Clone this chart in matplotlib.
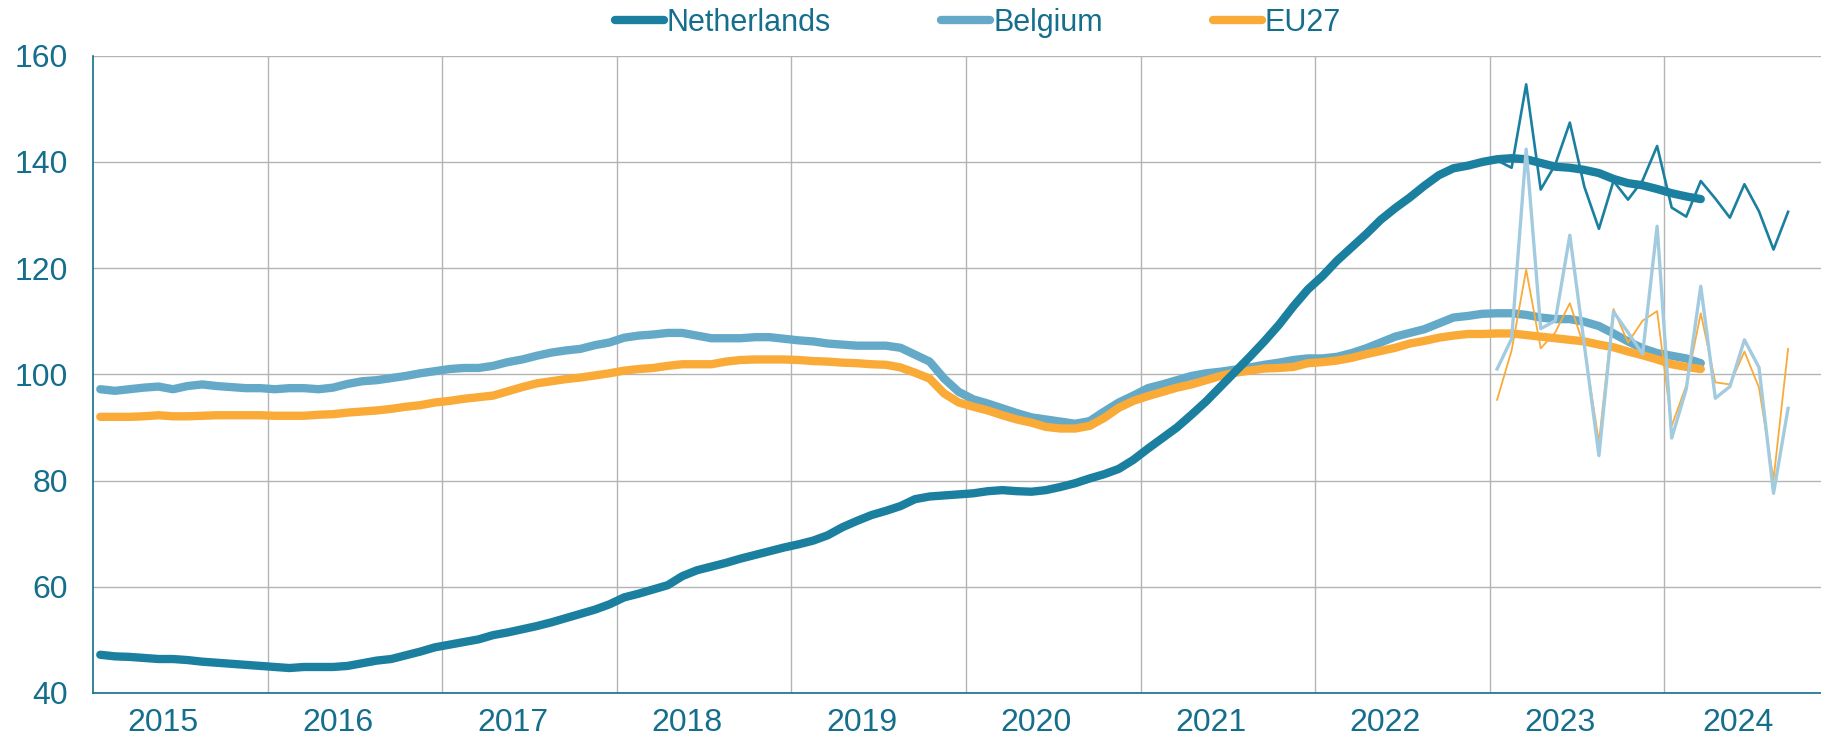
import numpy as np
import matplotlib.pyplot as plt

# monthly index, smoothed series Jan 2015 - Mar 2024
netherlands = [
    47.2, 46.9, 46.8, 46.6, 46.4, 46.4, 46.2, 45.9, 45.7, 45.5, 45.3, 45.1,
    44.9, 44.7, 44.9, 44.9, 44.9, 45.1, 45.6, 46.1, 46.4, 47.1, 47.8, 48.6,
    49.1, 49.6, 50.1, 50.9, 51.4, 52.0, 52.6, 53.3, 54.1, 54.9, 55.7, 56.7,
    58.0, 58.7, 59.5, 60.3, 62.0, 63.1, 63.8, 64.5, 65.3, 66.0, 66.7, 67.4,
    68.0, 68.7, 69.7, 71.2, 72.4, 73.5, 74.3, 75.2, 76.5, 77.0, 77.2, 77.4,
    77.6, 78.0, 78.2, 78.0, 77.9, 78.2, 78.8, 79.5, 80.4, 81.2, 82.2, 83.9,
    86.0, 88.0, 90.0, 92.4, 94.9, 97.7, 100.5, 103.3, 106.2, 109.3, 112.8, 116.0,
    118.5, 121.4, 123.9, 126.4, 129.1, 131.3, 133.3, 135.5, 137.5, 138.8, 139.3, 140.0,
    140.5, 140.7, 140.5, 139.8, 139.1, 138.9, 138.5, 137.9, 136.8, 136.0, 135.6, 134.9,
    134.1, 133.5, 133.0,
]
belgium = [
    97.2, 96.9, 97.2, 97.5, 97.7, 97.2, 97.8, 98.1, 97.8, 97.6, 97.4, 97.4,
    97.2, 97.4, 97.4, 97.2, 97.5, 98.2, 98.7, 98.9, 99.3, 99.7, 100.2, 100.6,
    101.0, 101.2, 101.2, 101.6, 102.3, 102.8, 103.5, 104.1, 104.5, 104.8, 105.5, 106.0,
    106.9, 107.3, 107.5, 107.8, 107.8, 107.3, 106.8, 106.8, 106.8, 107.0, 107.0, 106.7,
    106.4, 106.2, 105.8, 105.6, 105.4, 105.4, 105.4, 105.0, 103.7, 102.4, 99.2, 96.7,
    95.3, 94.5, 93.6, 92.7, 91.9, 91.5, 91.1, 90.7, 91.2, 93.0, 94.7, 96.0,
    97.4, 98.1, 98.9, 99.7, 100.2, 100.5, 100.9, 101.3, 101.8, 102.2, 102.7, 103.0,
    103.0, 103.3, 104.0, 104.9, 106.0, 107.1, 107.8, 108.5, 109.6, 110.7, 111.0, 111.4,
    111.5, 111.5, 111.2, 110.7, 110.4, 110.4, 109.9, 109.1, 107.7, 106.2, 104.9, 104.0,
    103.5, 103.0, 102.1,
]
eu27 = [
    92.0, 92.0, 92.0, 92.1, 92.3, 92.1, 92.1, 92.2, 92.3, 92.3, 92.3, 92.3,
    92.2, 92.2, 92.2, 92.4, 92.5, 92.8, 93.0, 93.2, 93.5, 93.9, 94.2, 94.7,
    95.0, 95.4, 95.7, 96.0, 96.8, 97.6, 98.3, 98.7, 99.1, 99.4, 99.8, 100.2,
    100.7, 101.0, 101.2, 101.6, 101.9, 101.9, 101.9, 102.4, 102.7, 102.8, 102.8, 102.8,
    102.7, 102.5, 102.4, 102.2, 102.1, 101.9, 101.8, 101.3, 100.3, 99.2, 96.4, 94.7,
    93.9, 93.2, 92.3, 91.5, 90.9, 90.1, 89.8, 89.8, 90.3, 91.8, 93.7, 95.0,
    95.9, 96.7, 97.5, 98.1, 98.9, 99.7, 100.3, 100.7, 101.1, 101.2, 101.4, 102.1,
    102.3, 102.6, 103.1, 103.8, 104.4, 105.0, 105.8, 106.3, 106.9, 107.3, 107.6, 107.6,
    107.7, 107.7, 107.4, 107.1, 106.8, 106.5, 106.2, 105.6, 105.1, 104.3, 103.6, 102.8,
    101.9, 101.4, 101.0,
]

# raw monthly values Jan 2023 - Sep 2024
netherlands_raw = [140.3, 138.9, 154.6, 134.8, 139.5, 147.4, 135.3, 127.4, 136.4, 132.9, 136.5,
                   143.0, 131.4, 129.7, 136.4, 133.1, 129.5, 135.8, 130.7, 123.5, 130.6]
belgium_raw = [101.0, 106.7, 142.4, 108.6, 110.1, 126.2, 105.5, 84.7, 111.8, 107.9, 103.8,
               127.9, 88.0, 97.2, 116.6, 95.5, 97.7, 106.5, 101.3, 77.6, 93.6]
eu27_raw = [95.2, 104.5, 119.7, 104.9, 107.9, 113.4, 105.0, 87.2, 112.3, 106.0, 110.1,
            111.9, 90.3, 97.9, 111.5, 98.5, 98.1, 104.3, 97.5, 80.2, 104.8]

years = list(range(2015, 2025))
start_year = 2015
raw_start_year = 2023

NL_COL = '#1b7fa0'
BE_COL = '#64aac8'
BE_LIGHT = '#a3cbe0'
EU_COL = '#faaa37'
TXT_COL = '#146e8c'

plt.rcParams['font.family'] = ['Liberation Sans', 'DejaVu Sans']

W, H = 1821, 738
fig = plt.figure(figsize=(W / 100, H / 100), dpi=100)
left, right, top, bottom = 93, 1821, 55.7, 693
ax = fig.add_axes([left / W, 1 - bottom / H, (right - left) / W, (bottom - top) / H])

x_s = start_year + (np.arange(len(netherlands)) + 0.5) / 12
x_r = raw_start_year + (np.arange(len(netherlands_raw)) + 0.5) / 12

lw = 6.0
ax.plot(x_s, belgium, color=BE_COL, lw=lw, solid_capstyle='round', zorder=2, label='Belgium')
ax.plot(x_s, eu27, color=EU_COL, lw=lw, solid_capstyle='round', zorder=2.1, label='EU27')
ax.plot(x_s, netherlands, color=NL_COL, lw=lw, solid_capstyle='round', zorder=2.2, label='Netherlands')

ax.plot(x_r, eu27_raw, color=EU_COL, lw=1.3, zorder=3)
ax.plot(x_r, belgium_raw, color=BE_LIGHT, lw=2.4, zorder=3.1)
ax.plot(x_r, netherlands_raw, color=NL_COL, lw=1.9, zorder=3.2)

px_per_year = 174.6
xmax = start_year + (right - left) / px_per_year
ax.set_xlim(start_year, xmax)
ax.set_ylim(40, 160)
ax.set_yticks(np.arange(40, 161, 20))

# year labels sit a little left of each year's centre, last one on the visible part
shift = 17 / px_per_year
centers = [y + 0.5 - shift for y in years[:-1]] + [start_year + (1738 - left) / px_per_year]
ax.set_xticks(centers)
ax.set_xticklabels([str(y) for y in years])
ax.set_xticks(years[1:], minor=True)

ax.grid(False)
ax.grid(True, which='minor', axis='x', color='#b4b4b4', lw=1.0)
ax.grid(True, which='major', axis='y', color='#b4b4b4', lw=1.0)
ax.set_axisbelow(True)

ax.tick_params(axis='both', which='both', length=0, labelsize=23, labelcolor=TXT_COL)
ax.tick_params(axis='y', pad=18)
ax.tick_params(axis='x', pad=11)

for s in ['top', 'right']:
    ax.spines[s].set_visible(False)
ax.spines['left'].set_color(TXT_COL)
ax.spines['bottom'].set_color(TXT_COL)
ax.spines['left'].set_linewidth(1.2)
ax.spines['bottom'].set_linewidth(1.2)

handles, labels = ax.get_legend_handles_labels()
order = [2, 0, 1]
leg = fig.legend([handles[i] for i in order], [labels[i] for i in order],
                 loc='center', bbox_to_anchor=(978 / W, 1 - 23 / H), ncol=3,
                 frameon=False, fontsize=22, handlelength=1.6, handletextpad=0.1,
                 columnspacing=3.6, borderpad=0)
for t in leg.get_texts():
    t.set_color(TXT_COL)

fig.savefig('out.png', dpi=100)
